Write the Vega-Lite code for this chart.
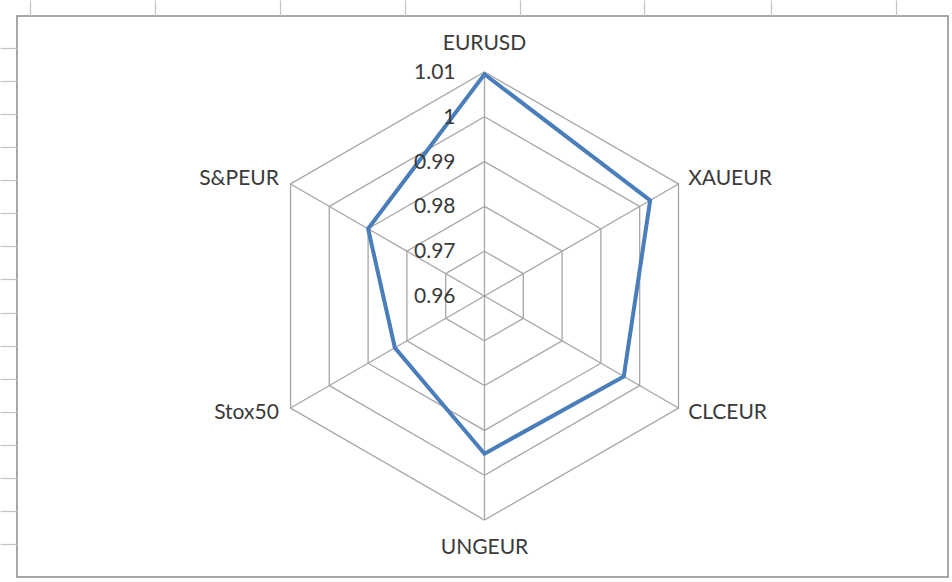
{
  "$schema": "https://vega.github.io/schema/vega-lite/v6.json",
  "autosize": {"type": "none"},
  "width": 931,
  "height": 561,
  "padding": {"left": 17, "top": 16, "right": 4, "bottom": 5},
  "background": "white",
  "view": {"stroke": "#8a8a8a", "strokeWidth": 1.5},
  "config": {"text": {"font": "Lato", "fontSize": 21, "color": "#3a3a3a"}},
  "datasets": {
    "series": [
      {"axis": "EURUSD", "i": 0, "value": 1.0095},
      {"axis": "XAUEUR", "i": 1, "value": 1.0027},
      {"axis": "CLCEUR", "i": 2, "value": 0.9959},
      {"axis": "UNGEUR", "i": 3, "value": 0.9952},
      {"axis": "Stox50", "i": 4, "value": 0.9831},
      {"axis": "S&PEUR", "i": 5, "value": 0.99}
    ],
    "levels": [
      {"level": 0.96},
      {"level": 0.97},
      {"level": 0.98},
      {"level": 0.99},
      {"level": 1.0},
      {"level": 1.01}
    ],
    "grid": [
      {"level": 0.97, "i": [0, 1, 2, 3, 4, 5]},
      {"level": 0.98, "i": [0, 1, 2, 3, 4, 5]},
      {"level": 0.99, "i": [0, 1, 2, 3, 4, 5]},
      {"level": 1.0, "i": [0, 1, 2, 3, 4, 5]},
      {"level": 1.01, "i": [0, 1, 2, 3, 4, 5]}
    ]
  },
  "encoding": {
    "x": {
      "field": "x",
      "type": "quantitative",
      "scale": {"domain": [-2.087054, 2.069196], "nice": false, "zero": false},
      "axis": {
        "orient": "top",
        "values": [-2.029, -1.471, -0.9129, -0.3549, 0.1585, 0.7121, 1.279, 1.8371],
        "tickSize": 16,
        "tickColor": "#c4c4c4",
        "tickWidth": 1.2,
        "labels": false,
        "domain": false,
        "grid": false,
        "title": null
      }
    },
    "y": {
      "field": "y",
      "type": "quantitative",
      "scale": {"domain": [-1.254464, 1.25], "nice": false, "zero": false},
      "axis": {
        "orient": "left",
        "values": [1.1085, 0.9607, 0.8129, 0.6652, 0.5174, 0.3696, 0.2219, 0.0741, -0.0737, -0.2214, -0.3692, -0.517, -0.6647, -0.8125, -0.9603, -1.108],
        "tickSize": 17,
        "tickColor": "#c4c4c4",
        "tickWidth": 1.2,
        "labels": false,
        "domain": false,
        "grid": false,
        "title": null
      }
    }
  },
  "layer": [
    {
      "data": {"name": "grid"},
      "transform": [
        {"flatten": ["i"]},
        {"calculate": "(datum.level - 0.96) / 0.05", "as": "r"},
        {"calculate": "datum.r * sin(datum.i * PI / 3)", "as": "x"},
        {"calculate": "datum.r * cos(datum.i * PI / 3)", "as": "y"}
      ],
      "mark": {"type": "line", "interpolate": "linear-closed", "stroke": "#a6a6a6", "strokeWidth": 1.3},
      "encoding": {
        "detail": {"field": "level", "type": "nominal"},
        "order": {"field": "i", "type": "quantitative"}
      }
    },
    {
      "data": {"name": "series"},
      "transform": [
        {"calculate": "sin(datum.i * PI / 3)", "as": "x"},
        {"calculate": "cos(datum.i * PI / 3)", "as": "y"}
      ],
      "mark": {"type": "rule", "stroke": "#a6a6a6", "strokeWidth": 1.3},
      "encoding": {
        "x2": {"datum": 0},
        "y2": {"datum": 0}
      }
    },
    {
      "data": {"name": "series"},
      "transform": [
        {"calculate": "(datum.value - 0.96) / 0.05", "as": "r"},
        {"calculate": "datum.r * sin(datum.i * PI / 3)", "as": "x"},
        {"calculate": "datum.r * cos(datum.i * PI / 3)", "as": "y"}
      ],
      "mark": {"type": "line", "interpolate": "linear-closed", "stroke": "#4a7ebb", "strokeWidth": 4, "strokeJoin": "miter"},
      "encoding": {
        "order": {"field": "i", "type": "quantitative"}
      }
    },
    {
      "data": {"name": "levels"},
      "transform": [
        {"calculate": "0", "as": "x"},
        {"calculate": "(datum.level - 0.96) / 0.05", "as": "y"}
      ],
      "mark": {"type": "text", "align": "right", "baseline": "middle", "dx": -29, "dy": 1},
      "encoding": {
        "text": {"field": "level", "type": "quantitative", "format": "~g"}
      }
    },
    {
      "data": {"name": "series"},
      "transform": [
        {"filter": "datum.i == 0 || datum.i == 3"},
        {"calculate": "1.125 * sin(datum.i * PI / 3)", "as": "x"},
        {"calculate": "1.125 * cos(datum.i * PI / 3)", "as": "y"}
      ],
      "mark": {"type": "text", "align": "center", "baseline": "middle"},
      "encoding": {"text": {"field": "axis", "type": "nominal"}}
    },
    {
      "data": {"name": "series"},
      "transform": [
        {"filter": "datum.i == 1 || datum.i == 2"},
        {"calculate": "1.0446 * sin(datum.i * PI / 3)", "as": "x"},
        {"calculate": "1.0446 * cos(datum.i * PI / 3)", "as": "y"}
      ],
      "mark": {"type": "text", "align": "left", "baseline": "middle", "dx": 1},
      "encoding": {"text": {"field": "axis", "type": "nominal"}}
    },
    {
      "data": {"name": "series"},
      "transform": [
        {"filter": "datum.i == 4 || datum.i == 5"},
        {"calculate": "1.0446 * sin(datum.i * PI / 3)", "as": "x"},
        {"calculate": "1.0446 * cos(datum.i * PI / 3)", "as": "y"}
      ],
      "mark": {"type": "text", "align": "right", "baseline": "middle", "dx": -3},
      "encoding": {"text": {"field": "axis", "type": "nominal"}}
    }
  ]
}
